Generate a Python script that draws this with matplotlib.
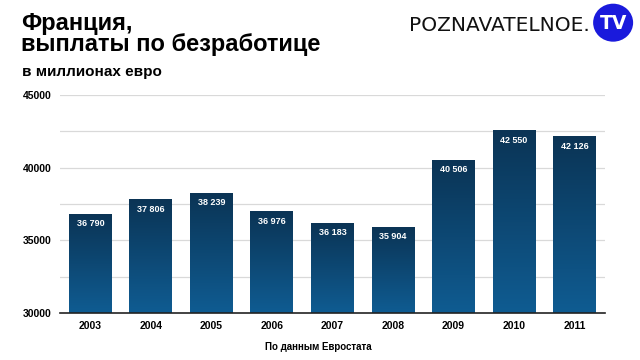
import matplotlib.pyplot as plt
import numpy as np
from matplotlib.colors import LinearSegmentedColormap
from matplotlib.patches import Ellipse

plt.rcParams['font.family'] = ['Liberation Sans', 'DejaVu Sans']

years = ['2003', '2004', '2005', '2006', '2007', '2008', '2009', '2010', '2011']
values = [36790, 37806, 38239, 36976, 36183, 35904, 40506, 42550, 42126]
labels = ['36 790', '37 806', '38 239', '36 976', '36 183', '35 904', '40 506', '42 550', '42 126']
yticks = [30000, 35000, 40000, 45000]

fig = plt.figure(figsize=(6.4, 3.6), dpi=100)
ax = fig.add_axes([0.094, 0.131, 0.851, 0.605])

ymin, ymax = 30000, 45000
cmap = LinearSegmentedColormap.from_list('bar', ['#0f5c92', '#0b3455'])
grad = np.linspace(0, 1, 256).reshape(-1, 1)

x = np.arange(len(years))
bars = ax.bar(x, values, width=0.71, bottom=0, color='none', zorder=3)
for b, lab in zip(bars, labels):
    x0 = b.get_x()
    x1 = x0 + b.get_width()
    h = b.get_height()
    ax.imshow(grad, extent=[x0, x1, ymin, h], origin='lower', cmap=cmap,
              aspect='auto', zorder=3)
    ax.text(x0 + b.get_width() / 2, h - 350, lab, ha='center', va='top',
            color='white', fontsize=6.5, fontweight='bold', zorder=4)

ax.set_xlim(-0.5, len(years) - 0.5)
ax.set_ylim(ymin, ymax)
ax.set_yticks(yticks)
ax.set_yticklabels([str(t) for t in yticks], fontsize=7.5, fontweight='bold')
for t in np.arange(ymin + 2500, ymax + 1, 2500):
    ax.axhline(t, color='#d9d9d9', lw=0.9, zorder=1)
ax.set_xticks(x)
ax.set_xticklabels(years, fontsize=7.5, fontweight='bold')
ax.tick_params(axis='both', length=0)
ax.tick_params(axis='x', pad=6)
ax.tick_params(axis='y', pad=6)
for s in ['top', 'right', 'left']:
    ax.spines[s].set_visible(False)
ax.spines['bottom'].set_color('#222222')
ax.spines['bottom'].set_linewidth(1.2)
ax.spines['bottom'].set_zorder(5)

fig.text(0.033, 0.968, 'Франция,\nвыплаты по безработице', ha='left', va='top',
         fontsize=17, fontweight='bold', linespacing=0.92)
fig.text(0.034, 0.8, 'в миллионах евро', ha='left', va='center',
         fontsize=11, fontweight='bold')
fig.text(0.497, 0.035, 'По данным Евростата', ha='center', va='center',
         fontsize=7, fontweight='bold')

# logo
fig.text(0.921, 0.93, 'POZNAVATELNOE.', ha='right', va='center',
         fontsize=14.5, color='#111111', family='DejaVu Sans')
circ = Ellipse((0.958, 0.937), 40 / 640, 38 / 360, transform=fig.transFigure,
               facecolor='#1a1adc', edgecolor='none')
fig.patches.append(circ)
fig.text(0.958, 0.935, 'TV', ha='center', va='center', fontsize=13.5,
         color='white', fontweight='bold', family='DejaVu Sans')

fig.savefig('out.png', dpi=100)
